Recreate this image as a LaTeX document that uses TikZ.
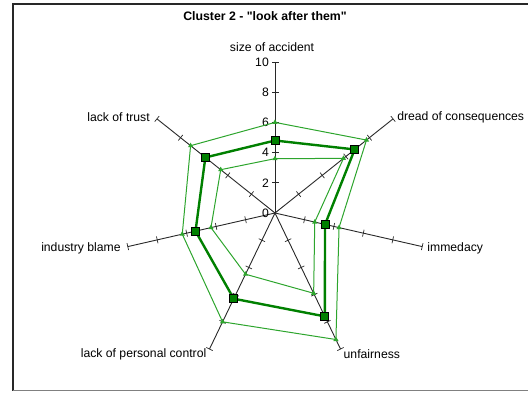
\documentclass[tikz,border=0pt]{standalone}
\usepackage{fontspec}
\setmainfont{Liberation Sans}[Ligatures=TeXOff]
\usepackage{xcolor}
\usetikzlibrary{positioning,shapes.geometric}
\definecolor{darkgreen}{RGB}{0,128,0}
\definecolor{bandgreen}{RGB}{45,165,45}
\definecolor{axisgray}{RGB}{40,40,40}

\begin{document}
\begin{tikzpicture}[x=1pt,y=1pt,
  lbl/.style={font=\fontsize{12.2}{14}\selectfont, inner sep=0pt},
  axisline/.style={axisgray, line width=0.9pt},
  meanline/.style={darkgreen, line width=2.4pt, line join=miter},
  bandline/.style={bandgreen, line width=1pt},
  sqmark/.style={rectangle, draw=black, fill=darkgreen, line width=0.8pt, minimum size=8pt, inner sep=0pt},
  trimark/.style={regular polygon, regular polygon sides=3, fill=bandgreen, minimum size=6pt, inner sep=0pt}]

\useasboundingbox (0,0) rectangle (528,392);

\def\step{15.1}

% frame of the chart area
\draw[axisgray, line width=1.5pt] (528,388) -- (13,388) -- (13,1.5);
\draw[gray, line width=1.5pt] (13,1.5) -- (528,1.5);

% title
\node[lbl, font=\fontsize{12.3}{14}\selectfont\bfseries] (title) at (265,376) {Cluster 2 - "look after them"};

\begin{scope}[shift={(275,179)}]

% axes with ticks every 2 units
\foreach \k in {0,...,6} {
  \begin{scope}[rotate={90-\k*360/7}]
    \draw[axisline] (0,0) -- (10*\step,0);
    \foreach \t in {2,4,6,8,10}
      \draw[axisline, line width=0.7pt] (\t*\step,-3.5) -- (\t*\step,3.5);
  \end{scope}
  \coordinate (ax\k) at ({90-\k*360/7}:{10*\step});
}

% scale on the first axis
\foreach \v in {0,2,4,6,8,10}
  \node[lbl, anchor=east] (num\v) at (-6,\v*\step) {\v};

% axis names
\node[lbl, above=10pt of ax0, xshift=-3pt] (sizeacc) {size of accident};
\node[lbl, right=4pt of ax1, yshift=2pt] (dread) {dread of consequences};
\node[lbl, right=5pt of ax2, yshift=-2pt] (immed) {immedacy};
\node[lbl, anchor=west] (unfair) at ([xshift=3pt, yshift=-5pt]ax3) {unfairness};
\node[lbl, anchor=east] (perscontrol) at ([xshift=-3pt, yshift=-5pt]ax4) {lack of personal control};
\node[lbl, left=7pt of ax5, yshift=-2pt] (indblame) {industry blame};
\node[lbl, left=7pt of ax6, yshift=2pt] (trust) {lack of trust};

% data: mean, upper band, lower band
\foreach \k/\m/\o/\i in {0/4.8/6.0/3.6, 1/6.75/7.75/5.8, 2/3.4/4.35/2.7, 3/7.6/9.3/5.9,
                         4/6.3/8.0/4.5, 5/5.4/6.3/4.35, 6/5.9/7.15/4.6} {
  \coordinate (m\k) at ({90-\k*360/7}:{\m*\step});
  \coordinate (o\k) at ({90-\k*360/7}:{\o*\step});
  \coordinate (i\k) at ({90-\k*360/7}:{\i*\step});
}

\draw[bandline] (o0) -- (o1) -- (o2) -- (o3) -- (o4) -- (o5) -- (o6) -- cycle;
\draw[bandline] (i0) -- (i1) -- (i2) -- (i3) -- (i4) -- (i5) -- (i6) -- cycle;
\draw[meanline] (m0) -- (m1) -- (m2) -- (m3) -- (m4) -- (m5) -- (m6) -- cycle;

\foreach \k in {0,...,6} {
  \node[trimark] (to\k) at (o\k) {};
  \node[trimark] (ti\k) at (i\k) {};
  \node[sqmark] (sq\k) at (m\k) {};
}

\end{scope}

\end{tikzpicture}
\end{document}
